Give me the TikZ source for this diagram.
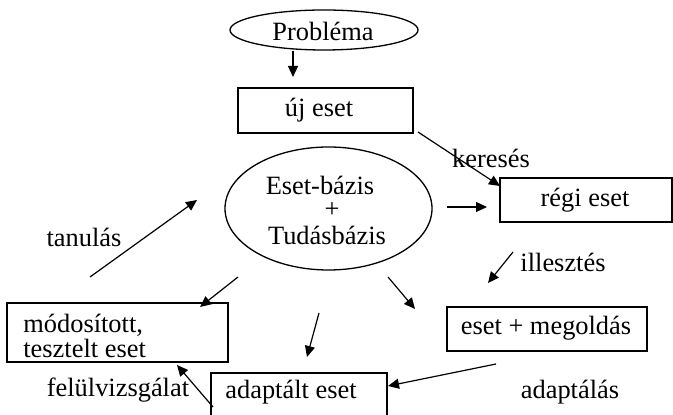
\documentclass[tikz,border=0pt]{standalone}
\usepackage{fontspec}
\setmainfont{Liberation Serif}
\usetikzlibrary{shapes.geometric,arrows.meta}
\begin{document}
\begin{tikzpicture}[x=0.5pt,y=-0.5pt,
  every node/.style={font=\fontsize{13.2}{15}\selectfont, inner sep=0pt},
  box/.style={draw, line width=0.65pt, rectangle},
  oval/.style={draw, line width=0.65pt, ellipse},
  txt/.style={},
  conn/.style={line width=0.6pt, -{Triangle[length=5.5pt,width=5pt]}}]
\clip (0,0) rectangle (673,415);
\useasboundingbox (0,0) rectangle (673,415);
\fill[white] (0,0) rectangle (673,415);
% nodes
\node[oval, minimum width=94pt, minimum height=20pt] (prob) at (324,30) {};
\node[txt] (probt) at (323,31) {Probléma};
\node[box, minimum width=87.5pt, minimum height=22.5pt] (uj) at (325.5,110.5) {};
\node[txt] (ujt) at (319,110) {új eset};
\node[oval, minimum width=103.5pt, minimum height=61.5pt] (base) at (328.5,208.5) {};
\node[txt] (b1) at (320,185) {Eset-bázis};
\node[txt] (b2) at (332,210) {+};
\node[txt] (b3) at (327,235) {Tudásbázis};
\node[box, minimum width=86pt, minimum height=22pt] (regi) at (586,200) {};
\node[txt] (regit) at (585,200) {régi eset};
\node[box, minimum width=100pt, minimum height=22pt] (megold) at (547,329) {};
\node[txt] (megoldt) at (546,328) {eset + megoldás};
\node[box, minimum width=110.5pt, minimum height=29.5pt] (modos) at (117.5,332.5) {};
\node[txt, anchor=west, align=left] (modost) at (23,335.5) {módosított,\\[-2.5pt]tesztelt eset};
\node[box, minimum width=88pt, minimum height=33.5pt] (adapt) at (299,406.5) {};
\node[txt] (adaptt) at (291,392) {adaptált eset};
% labels
\node[txt] (lker) at (491,158) {keresés};
\node[txt] (lill) at (563,262) {illesztés};
\node[txt] (lada) at (570,392) {adaptálás};
\node[txt] (lfel) at (118,390) {felülvizsgálat};
\node[txt] (ltan) at (84,237) {tanulás};
% connector end points
\coordinate (a1s) at (293,51);  \coordinate (a1e) at (293,77);
\coordinate (a2s) at (418,132); \coordinate (a2e) at (500,186);
\coordinate (a3s) at (447,207); \coordinate (a3e) at (487,207);
\coordinate (a4s) at (513,252); \coordinate (a4e) at (488,283);
\coordinate (a5s) at (388,277); \coordinate (a5e) at (415,309);
\coordinate (a6s) at (238,277); \coordinate (a6e) at (200,307);
\coordinate (a7s) at (319,313); \coordinate (a7e) at (307,357);
\coordinate (a8s) at (496,364); \coordinate (a8e) at (388,386);
\coordinate (a9s) at (213,407); \coordinate (a9e) at (177,365);
\coordinate (a10s) at (90,277); \coordinate (a10e) at (197,200);
\draw[conn] (a1s) -- (a1e);
\draw[conn] (a2s) -- (a2e);
\draw[conn] (a3s) -- (a3e);
\draw[conn] (a4s) -- (a4e);
\draw[conn] (a5s) -- (a5e);
\draw[conn] (a6s) -- (a6e);
\draw[conn] (a7s) -- (a7e);
\draw[conn] (a8s) -- (a8e);
\draw[conn] (a9s) -- (a9e);
\draw[conn] (a10s) -- (a10e);
\end{tikzpicture}
\end{document}
